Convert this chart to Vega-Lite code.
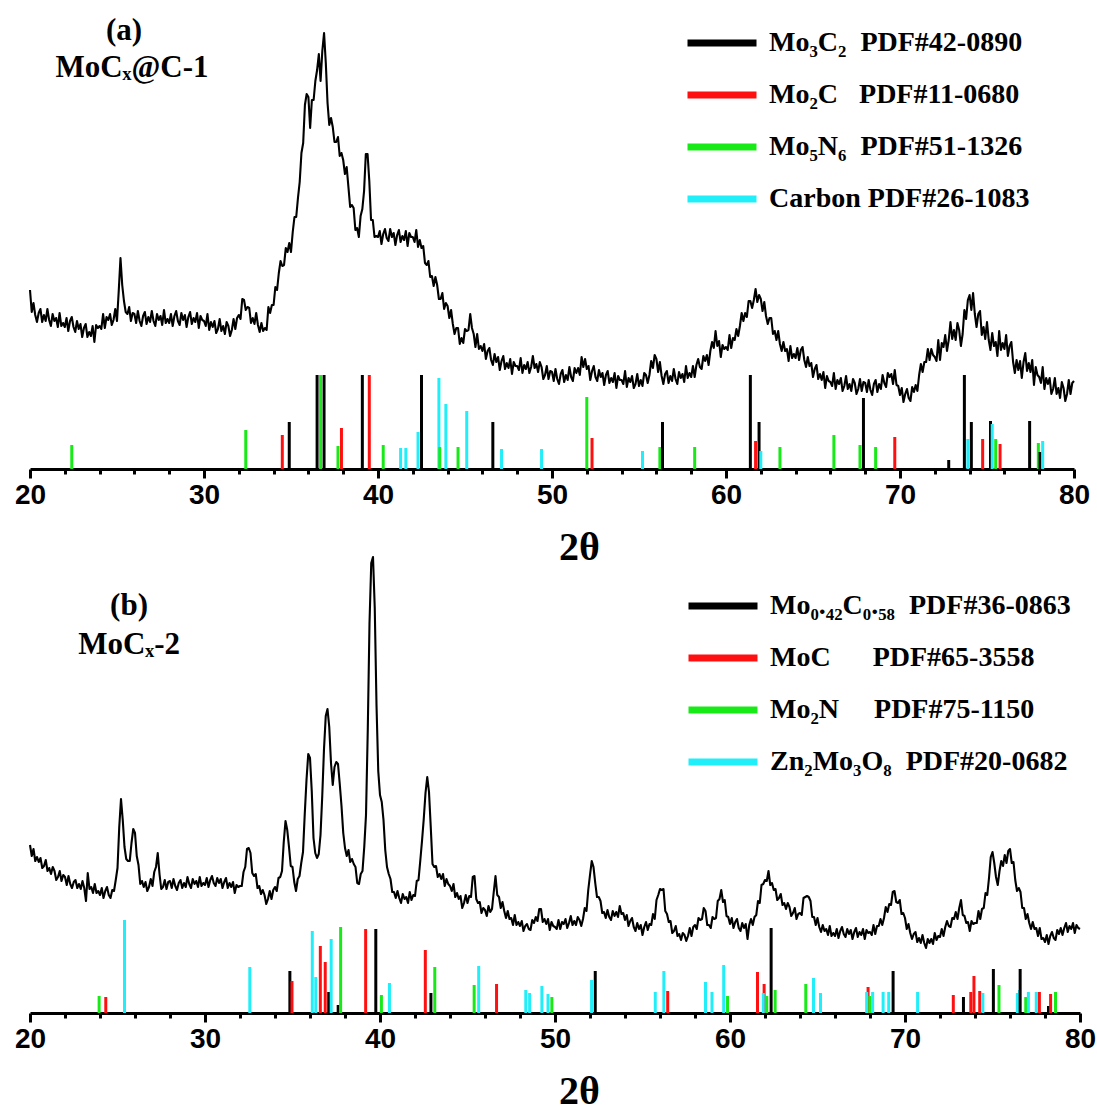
{
  "$schema": "https://vega.github.io/schema/vega-lite/v6.json",
  "autosize": {"type": "pad"},
  "padding": {"left": 14, "top": 5, "right": 5, "bottom": 5},
  "background": "white",
  "bounds": "flush",
  "spacing": 78,
  "config": {
    "view": {"stroke": null},
    "axisX": {
      "values": [20, 25, 30, 35, 40, 45, 50, 55, 60, 65, 70, 75, 80],
      "labelExpr": "datum.value % 10 === 0 ? datum.label : ''",
      "tickWidth": 3, "tickColor": "black",
      "domainColor": "black", "domainWidth": 3,
      "labelFont": "Liberation Sans", "labelFontSize": 28, "labelFontWeight": "bold", "labelColor": "black",
      "labelPadding": 3, "labelFlush": false, "labelOverlap": false,
      "titleFont": "Liberation Serif", "titleFontSize": 40, "titleFontWeight": "bold", "titleColor": "black",
      "titleY": 90, "titleBaseline": "alphabetic", "titleX": 549,
      "grid": false
    },
    "legend": {
      "orient": "none", "title": null, "padding": 0,
      "symbolType": "stroke", "symbolSize": 4761, "symbolStrokeWidth": 7,
      "labelFont": "Liberation Serif", "labelFontSize": 28, "labelFontWeight": "bold", "labelColor": "black",
      "labelOffset": 9, "labelLimit": 0, "rowPadding": -4
    }
  },
  "resolve": {"scale": {"color": "independent"}},
  "datasets": {
    "curveA": [
      {"t":20,"i":179},{"t":20.1,"i":157},{"t":20.2,"i":166},{"t":20.3,"i":154},{"t":20.4,"i":147},{"t":20.5,"i":156},{"t":20.6,"i":160},{"t":20.7,"i":147},{"t":20.8,"i":154},{"t":20.9,"i":148},
      {"t":21,"i":160},{"t":21.1,"i":149},{"t":21.2,"i":143},{"t":21.3,"i":155},{"t":21.4,"i":148},{"t":21.5,"i":151},{"t":21.6,"i":142},{"t":21.7,"i":156},{"t":21.8,"i":143},{"t":21.9,"i":146},
      {"t":22,"i":142},{"t":22.1,"i":151},{"t":22.2,"i":138},{"t":22.3,"i":148},{"t":22.4,"i":152},{"t":22.5,"i":142},{"t":22.6,"i":137},{"t":22.7,"i":148},{"t":22.8,"i":140},{"t":22.9,"i":145},
      {"t":23,"i":132},{"t":23.1,"i":141},{"t":23.2,"i":145},{"t":23.3,"i":132},{"t":23.4,"i":137},{"t":23.5,"i":133},{"t":23.6,"i":143},{"t":23.7,"i":127},{"t":23.8,"i":144},{"t":23.9,"i":141},
      {"t":24,"i":143},{"t":24.1,"i":140},{"t":24.2,"i":155},{"t":24.3,"i":141},{"t":24.4,"i":152},{"t":24.5,"i":149},{"t":24.6,"i":155},{"t":24.7,"i":144},{"t":24.8,"i":149},{"t":24.9,"i":160},
      {"t":25,"i":148},{"t":25.1,"i":178},{"t":25.2,"i":211},{"t":25.3,"i":184},{"t":25.4,"i":168},{"t":25.5,"i":157},{"t":25.6,"i":155},{"t":25.7,"i":162},{"t":25.8,"i":148},{"t":25.9,"i":156},
      {"t":26,"i":155},{"t":26.1,"i":146},{"t":26.2,"i":158},{"t":26.3,"i":148},{"t":26.4,"i":143},{"t":26.5,"i":153},{"t":26.6,"i":157},{"t":26.7,"i":145},{"t":26.8,"i":152},{"t":26.9,"i":147},
      {"t":27,"i":158},{"t":27.1,"i":148},{"t":27.2,"i":143},{"t":27.3,"i":155},{"t":27.4,"i":149},{"t":27.5,"i":153},{"t":27.6,"i":144},{"t":27.7,"i":159},{"t":27.8,"i":146},{"t":27.9,"i":150},
      {"t":28,"i":146},{"t":28.1,"i":155},{"t":28.2,"i":143},{"t":28.3,"i":153},{"t":28.4,"i":158},{"t":28.5,"i":148},{"t":28.6,"i":144},{"t":28.7,"i":156},{"t":28.8,"i":149},{"t":28.9,"i":154},
      {"t":29,"i":142},{"t":29.1,"i":152},{"t":29.2,"i":157},{"t":29.3,"i":145},{"t":29.4,"i":151},{"t":29.5,"i":147},{"t":29.6,"i":156},{"t":29.7,"i":141},{"t":29.8,"i":153},{"t":29.9,"i":149},
      {"t":30,"i":148},{"t":30.1,"i":143},{"t":30.2,"i":155},{"t":30.3,"i":139},{"t":30.4,"i":147},{"t":30.5,"i":142},{"t":30.6,"i":148},{"t":30.7,"i":136},{"t":30.8,"i":140},{"t":30.9,"i":150},
      {"t":31,"i":138},{"t":31.1,"i":143},{"t":31.2,"i":135},{"t":31.3,"i":147},{"t":31.4,"i":143},{"t":31.5,"i":133},{"t":31.6,"i":139},{"t":31.7,"i":150},{"t":31.8,"i":140},{"t":31.9,"i":151},
      {"t":32,"i":154},{"t":32.1,"i":150},{"t":32.2,"i":170},{"t":32.3,"i":169},{"t":32.4,"i":159},{"t":32.5,"i":162},{"t":32.6,"i":161},{"t":32.7,"i":146},{"t":32.8,"i":151},{"t":32.9,"i":145},
      {"t":33,"i":156},{"t":33.1,"i":144},{"t":33.2,"i":137},{"t":33.3,"i":146},{"t":33.4,"i":138},{"t":33.5,"i":141},{"t":33.6,"i":139},{"t":33.7,"i":162},{"t":33.8,"i":156},{"t":33.9,"i":164},
      {"t":34,"i":164},{"t":34.1,"i":182},{"t":34.2,"i":179},{"t":34.3,"i":196},{"t":34.4,"i":208},{"t":34.5,"i":203},{"t":34.6,"i":204},{"t":34.7,"i":221},{"t":34.8,"i":217},{"t":34.9,"i":226},
      {"t":35,"i":217},{"t":35.1,"i":237},{"t":35.2,"i":252},{"t":35.3,"i":252},{"t":35.4,"i":271},{"t":35.5,"i":287},{"t":35.6,"i":316},{"t":35.7,"i":326},{"t":35.8,"i":364},{"t":35.9,"i":375},
      {"t":36,"i":372},{"t":36.1,"i":341},{"t":36.2,"i":369},{"t":36.3,"i":369},{"t":36.4,"i":388},{"t":36.5,"i":399},{"t":36.6,"i":415},{"t":36.7,"i":388},{"t":36.8,"i":418},{"t":36.9,"i":436},
      {"t":37,"i":406},{"t":37.1,"i":366},{"t":37.2,"i":344},{"t":37.3,"i":351},{"t":37.4,"i":342},{"t":37.5,"i":327},{"t":37.6,"i":327},{"t":37.7,"i":332},{"t":37.8,"i":313},{"t":37.9,"i":316},
      {"t":38,"i":309},{"t":38.1,"i":295},{"t":38.2,"i":302},{"t":38.3,"i":282},{"t":38.4,"i":262},{"t":38.5,"i":264},{"t":38.6,"i":261},{"t":38.7,"i":239},{"t":38.8,"i":241},{"t":38.9,"i":232},
      {"t":39,"i":253},{"t":39.1,"i":260},{"t":39.2,"i":278},{"t":39.3,"i":315},{"t":39.4,"i":315},{"t":39.5,"i":288},{"t":39.6,"i":249},{"t":39.7,"i":249},{"t":39.8,"i":232},{"t":39.9,"i":233},
      {"t":40,"i":232},{"t":40.1,"i":238},{"t":40.2,"i":225},{"t":40.3,"i":235},{"t":40.4,"i":240},{"t":40.5,"i":231},{"t":40.6,"i":228},{"t":40.7,"i":240},{"t":40.8,"i":232},{"t":40.9,"i":236},
      {"t":41,"i":224},{"t":41.1,"i":234},{"t":41.2,"i":239},{"t":41.3,"i":227},{"t":41.4,"i":233},{"t":41.5,"i":229},{"t":41.6,"i":238},{"t":41.7,"i":223},{"t":41.8,"i":236},{"t":41.9,"i":232},
      {"t":42,"i":232},{"t":42.1,"i":227},{"t":42.2,"i":239},{"t":42.3,"i":222},{"t":42.4,"i":229},{"t":42.5,"i":221},{"t":42.6,"i":223},{"t":42.7,"i":206},{"t":42.8,"i":204},{"t":42.9,"i":208},
      {"t":43,"i":192},{"t":43.1,"i":193},{"t":43.2,"i":183},{"t":43.3,"i":192},{"t":43.4,"i":184},{"t":43.5,"i":170},{"t":43.6,"i":170},{"t":43.7,"i":176},{"t":43.8,"i":160},{"t":43.9,"i":166},
      {"t":44,"i":163},{"t":44.1,"i":151},{"t":44.2,"i":159},{"t":44.3,"i":145},{"t":44.4,"i":135},{"t":44.5,"i":141},{"t":44.6,"i":141},{"t":44.7,"i":125},{"t":44.8,"i":131},{"t":44.9,"i":126},
      {"t":45,"i":140},{"t":45.1,"i":138},{"t":45.2,"i":139},{"t":45.3,"i":155},{"t":45.4,"i":141},{"t":45.5,"i":135},{"t":45.6,"i":122},{"t":45.7,"i":135},{"t":45.8,"i":120},{"t":45.9,"i":123},
      {"t":46,"i":118},{"t":46.1,"i":125},{"t":46.2,"i":110},{"t":46.3,"i":118},{"t":46.4,"i":121},{"t":46.5,"i":109},{"t":46.6,"i":104},{"t":46.7,"i":115},{"t":46.8,"i":107},{"t":46.9,"i":112},
      {"t":47,"i":99},{"t":47.1,"i":108},{"t":47.2,"i":113},{"t":47.3,"i":100},{"t":47.4,"i":106},{"t":47.5,"i":101},{"t":47.6,"i":110},{"t":47.7,"i":95},{"t":47.8,"i":107},{"t":47.9,"i":103},
      {"t":48,"i":103},{"t":48.1,"i":99},{"t":48.2,"i":111},{"t":48.3,"i":96},{"t":48.4,"i":104},{"t":48.5,"i":100},{"t":48.6,"i":107},{"t":48.7,"i":96},{"t":48.8,"i":102},{"t":48.9,"i":113},
      {"t":49,"i":101},{"t":49.1,"i":105},{"t":49.2,"i":97},{"t":49.3,"i":107},{"t":49.4,"i":102},{"t":49.5,"i":90},{"t":49.6,"i":94},{"t":49.7,"i":103},{"t":49.8,"i":90},{"t":49.9,"i":98},
      {"t":50,"i":97},{"t":50.1,"i":88},{"t":50.2,"i":100},{"t":50.3,"i":90},{"t":50.4,"i":85},{"t":50.5,"i":95},{"t":50.6,"i":99},{"t":50.7,"i":87},{"t":50.8,"i":94},{"t":50.9,"i":89},
      {"t":51,"i":102},{"t":51.1,"i":92},{"t":51.2,"i":88},{"t":51.3,"i":101},{"t":51.4,"i":96},{"t":51.5,"i":101},{"t":51.6,"i":94},{"t":51.7,"i":112},{"t":51.8,"i":102},{"t":51.9,"i":110},
      {"t":52,"i":100},{"t":52.1,"i":103},{"t":52.2,"i":89},{"t":52.3,"i":98},{"t":52.4,"i":103},{"t":52.5,"i":92},{"t":52.6,"i":88},{"t":52.7,"i":99},{"t":52.8,"i":92},{"t":52.9,"i":96},
      {"t":53,"i":84},{"t":53.1,"i":94},{"t":53.2,"i":98},{"t":53.3,"i":86},{"t":53.4,"i":91},{"t":53.5,"i":87},{"t":53.6,"i":96},{"t":53.7,"i":81},{"t":53.8,"i":93},{"t":53.9,"i":89},
      {"t":54,"i":89},{"t":54.1,"i":85},{"t":54.2,"i":98},{"t":54.3,"i":82},{"t":54.4,"i":91},{"t":54.5,"i":87},{"t":54.6,"i":93},{"t":54.7,"i":81},{"t":54.8,"i":85},{"t":54.9,"i":95},
      {"t":55,"i":83},{"t":55.1,"i":89},{"t":55.2,"i":83},{"t":55.3,"i":96},{"t":55.4,"i":94},{"t":55.5,"i":86},{"t":55.6,"i":94},{"t":55.7,"i":108},{"t":55.8,"i":101},{"t":55.9,"i":114},
      {"t":56,"i":110},{"t":56.1,"i":97},{"t":56.2,"i":107},{"t":56.3,"i":93},{"t":56.4,"i":85},{"t":56.5,"i":95},{"t":56.6,"i":98},{"t":56.7,"i":86},{"t":56.8,"i":93},{"t":56.9,"i":88},
      {"t":57,"i":100},{"t":57.1,"i":90},{"t":57.2,"i":85},{"t":57.3,"i":97},{"t":57.4,"i":91},{"t":57.5,"i":95},{"t":57.6,"i":87},{"t":57.7,"i":103},{"t":57.8,"i":91},{"t":57.9,"i":96},
      {"t":58,"i":92},{"t":58.1,"i":103},{"t":58.2,"i":92},{"t":58.3,"i":104},{"t":58.4,"i":110},{"t":58.5,"i":102},{"t":58.6,"i":100},{"t":58.7,"i":113},{"t":58.8,"i":108},{"t":58.9,"i":114},
      {"t":59,"i":104},{"t":59.1,"i":118},{"t":59.2,"i":127},{"t":59.3,"i":121},{"t":59.4,"i":138},{"t":59.5,"i":123},{"t":59.6,"i":128},{"t":59.7,"i":112},{"t":59.8,"i":124},{"t":59.9,"i":120},
      {"t":60,"i":122},{"t":60.1,"i":119},{"t":60.2,"i":134},{"t":60.3,"i":121},{"t":60.4,"i":131},{"t":60.5,"i":129},{"t":60.6,"i":140},{"t":60.7,"i":133},{"t":60.8,"i":143},{"t":60.9,"i":156},
      {"t":61,"i":148},{"t":61.1,"i":156},{"t":61.2,"i":152},{"t":61.3,"i":168},{"t":61.4,"i":168},{"t":61.5,"i":161},{"t":61.6,"i":169},{"t":61.7,"i":180},{"t":61.8,"i":167},{"t":61.9,"i":174},
      {"t":62,"i":170},{"t":62.1,"i":158},{"t":62.2,"i":167},{"t":62.3,"i":153},{"t":62.4,"i":145},{"t":62.5,"i":151},{"t":62.6,"i":151},{"t":62.7,"i":135},{"t":62.8,"i":138},{"t":62.9,"i":129},
      {"t":63,"i":138},{"t":63.1,"i":125},{"t":63.2,"i":118},{"t":63.3,"i":127},{"t":63.4,"i":118},{"t":63.5,"i":120},{"t":63.6,"i":108},{"t":63.7,"i":123},{"t":63.8,"i":111},{"t":63.9,"i":115},
      {"t":64,"i":111},{"t":64.1,"i":121},{"t":64.2,"i":109},{"t":64.3,"i":119},{"t":64.4,"i":122},{"t":64.5,"i":109},{"t":64.6,"i":102},{"t":64.7,"i":112},{"t":64.8,"i":103},{"t":64.9,"i":106},
      {"t":65,"i":92},{"t":65.1,"i":100},{"t":65.2,"i":104},{"t":65.3,"i":90},{"t":65.4,"i":95},{"t":65.5,"i":89},{"t":65.6,"i":97},{"t":65.7,"i":81},{"t":65.8,"i":93},{"t":65.9,"i":88},
      {"t":66,"i":87},{"t":66.1,"i":83},{"t":66.2,"i":96},{"t":66.3,"i":80},{"t":66.4,"i":89},{"t":66.5,"i":85},{"t":66.6,"i":91},{"t":66.7,"i":78},{"t":66.8,"i":83},{"t":66.9,"i":93},
      {"t":67,"i":80},{"t":67.1,"i":85},{"t":67.2,"i":78},{"t":67.3,"i":90},{"t":67.4,"i":86},{"t":67.5,"i":75},{"t":67.6,"i":80},{"t":67.7,"i":90},{"t":67.8,"i":78},{"t":67.9,"i":87},
      {"t":68,"i":86},{"t":68.1,"i":77},{"t":68.2,"i":89},{"t":68.3,"i":79},{"t":68.4,"i":74},{"t":68.5,"i":85},{"t":68.6,"i":89},{"t":68.7,"i":77},{"t":68.8,"i":85},{"t":68.9,"i":80},
      {"t":69,"i":94},{"t":69.1,"i":86},{"t":69.2,"i":82},{"t":69.3,"i":96},{"t":69.4,"i":92},{"t":69.5,"i":95},{"t":69.6,"i":85},{"t":69.7,"i":99},{"t":69.8,"i":84},{"t":69.9,"i":83},
      {"t":70,"i":74},{"t":70.1,"i":81},{"t":70.2,"i":67},{"t":70.3,"i":75},{"t":70.4,"i":80},{"t":70.5,"i":71},{"t":70.6,"i":68},{"t":70.7,"i":82},{"t":70.8,"i":77},{"t":70.9,"i":84},
      {"t":71,"i":78},{"t":71.1,"i":94},{"t":71.2,"i":105},{"t":71.3,"i":97},{"t":71.4,"i":107},{"t":71.5,"i":107},{"t":71.6,"i":120},{"t":71.7,"i":109},{"t":71.8,"i":120},{"t":71.9,"i":114},
      {"t":72,"i":112},{"t":72.1,"i":108},{"t":72.2,"i":129},{"t":72.3,"i":109},{"t":72.4,"i":126},{"t":72.5,"i":122},{"t":72.6,"i":134},{"t":72.7,"i":118},{"t":72.8,"i":129},{"t":72.9,"i":147},
      {"t":73,"i":130},{"t":73.1,"i":139},{"t":73.2,"i":129},{"t":73.3,"i":146},{"t":73.4,"i":139},{"t":73.5,"i":123},{"t":73.6,"i":135},{"t":73.7,"i":159},{"t":73.8,"i":150},{"t":73.9,"i":169},
      {"t":74,"i":174},{"t":74.1,"i":159},{"t":74.2,"i":176},{"t":74.3,"i":155},{"t":74.4,"i":142},{"t":74.5,"i":155},{"t":74.6,"i":158},{"t":74.7,"i":134},{"t":74.8,"i":142},{"t":74.9,"i":130},
      {"t":75,"i":147},{"t":75.1,"i":129},{"t":75.2,"i":119},{"t":75.3,"i":136},{"t":75.4,"i":123},{"t":75.5,"i":127},{"t":75.6,"i":113},{"t":75.7,"i":138},{"t":75.8,"i":119},{"t":75.9,"i":126},
      {"t":76,"i":120},{"t":76.1,"i":134},{"t":76.2,"i":113},{"t":76.3,"i":123},{"t":76.4,"i":127},{"t":76.5,"i":107},{"t":76.6,"i":96},{"t":76.7,"i":109},{"t":76.8,"i":99},{"t":76.9,"i":108},
      {"t":77,"i":91},{"t":77.1,"i":107},{"t":77.2,"i":116},{"t":77.3,"i":98},{"t":77.4,"i":106},{"t":77.5,"i":97},{"t":77.6,"i":109},{"t":77.7,"i":84},{"t":77.8,"i":102},{"t":77.9,"i":94},
      {"t":78,"i":92},{"t":78.1,"i":86},{"t":78.2,"i":102},{"t":78.3,"i":80},{"t":78.4,"i":91},{"t":78.5,"i":85},{"t":78.6,"i":91},{"t":78.7,"i":75},{"t":78.8,"i":80},{"t":78.9,"i":91},
      {"t":79,"i":75},{"t":79.1,"i":81},{"t":79.2,"i":71},{"t":79.3,"i":87},{"t":79.4,"i":81},{"t":79.5,"i":68},{"t":79.6,"i":75},{"t":79.7,"i":89},{"t":79.8,"i":75},{"t":79.9,"i":86},
      {"t":80,"i":88}
    ],
    "sticksA": [
      {"t":22.4,"h":24,"p":"Mo5N6"},{"t":32.4,"h":39,"p":"Mo5N6"},{"t":34.5,"h":34,"p":"Mo2C"},{"t":34.9,"h":47,"p":"Mo3C2"},
      {"t":36.5,"h":94,"p":"Mo3C2"},{"t":36.9,"h":94,"p":"Mo3C2"},{"t":36.7,"h":94,"p":"Mo5N6"},{"t":37.7,"h":23,"p":"Mo5N6"},
      {"t":37.9,"h":41,"p":"Mo2C"},{"t":39.1,"h":94,"p":"Mo3C2"},{"t":39.5,"h":94,"p":"Mo2C"},{"t":40.3,"h":24,"p":"Mo5N6"},
      {"t":41.3,"h":21,"p":"Carbon"},{"t":41.6,"h":21,"p":"Carbon"},{"t":42.3,"h":37,"p":"Carbon"},{"t":42.5,"h":94,"p":"Mo3C2"},
      {"t":43.5,"h":91,"p":"Carbon"},{"t":43.55,"h":22,"p":"Mo5N6"},{"t":43.9,"h":65,"p":"Carbon"},{"t":44.6,"h":22,"p":"Mo5N6"},
      {"t":45.1,"h":58,"p":"Carbon"},{"t":46.6,"h":47,"p":"Mo3C2"},{"t":47.1,"h":20,"p":"Carbon"},{"t":49.4,"h":20,"p":"Carbon"},
      {"t":52.0,"h":72,"p":"Mo5N6"},{"t":52.3,"h":31,"p":"Mo2C"},{"t":55.2,"h":18,"p":"Carbon"},{"t":56.2,"h":22,"p":"Mo5N6"},
      {"t":56.35,"h":47,"p":"Mo3C2"},{"t":58.2,"h":22,"p":"Mo5N6"},{"t":61.4,"h":94,"p":"Mo3C2"},{"t":61.7,"h":28,"p":"Mo2C"},
      {"t":61.9,"h":47,"p":"Mo3C2"},{"t":62.0,"h":18,"p":"Carbon"},{"t":63.1,"h":22,"p":"Mo5N6"},{"t":66.2,"h":34,"p":"Mo5N6"},
      {"t":67.7,"h":24,"p":"Mo5N6"},{"t":67.9,"h":71,"p":"Mo3C2"},{"t":68.6,"h":22,"p":"Mo5N6"},{"t":69.7,"h":32,"p":"Mo2C"},
      {"t":72.8,"h":9,"p":"Mo3C2"},{"t":73.7,"h":94,"p":"Mo3C2"},{"t":73.9,"h":30,"p":"Carbon"},{"t":74.1,"h":47,"p":"Mo3C2"},
      {"t":74.75,"h":30,"p":"Mo2C"},{"t":75.2,"h":48,"p":"Mo3C2"},{"t":75.3,"h":45,"p":"Carbon"},{"t":75.5,"h":30,"p":"Mo5N6"},
      {"t":75.75,"h":25,"p":"Mo2C"},{"t":77.45,"h":48,"p":"Mo3C2"},{"t":77.95,"h":26,"p":"Mo5N6"},{"t":78.05,"h":17,"p":"Mo3C2"},
      {"t":78.2,"h":28,"p":"Carbon"}
    ],
    "curveB": [
      {"t":20,"i":168},{"t":20.1,"i":157},{"t":20.2,"i":164},{"t":20.3,"i":152},{"t":20.4,"i":156},{"t":20.5,"i":151},{"t":20.6,"i":155},{"t":20.7,"i":145},{"t":20.8,"i":147},{"t":20.9,"i":153},
      {"t":21,"i":142},{"t":21.1,"i":145},{"t":21.2,"i":139},{"t":21.3,"i":146},{"t":21.4,"i":142},{"t":21.5,"i":133},{"t":21.6,"i":136},{"t":21.7,"i":142},{"t":21.8,"i":132},{"t":21.9,"i":138},
      {"t":22,"i":136},{"t":22.1,"i":128},{"t":22.2,"i":137},{"t":22.3,"i":129},{"t":22.4,"i":125},{"t":22.5,"i":131},{"t":22.6,"i":133},{"t":22.7,"i":125},{"t":22.8,"i":129},{"t":22.9,"i":124},
      {"t":23,"i":132},{"t":23.1,"i":125},{"t":23.2,"i":112},{"t":23.3,"i":140},{"t":23.4,"i":124},{"t":23.5,"i":126},{"t":23.6,"i":120},{"t":23.7,"i":129},{"t":23.8,"i":120},{"t":23.9,"i":122},
      {"t":24,"i":118},{"t":24.1,"i":125},{"t":24.2,"i":115},{"t":24.3,"i":122},{"t":24.4,"i":126},{"t":24.5,"i":118},{"t":24.6,"i":115},{"t":24.7,"i":123},{"t":24.8,"i":122},{"t":24.9,"i":133},
      {"t":25,"i":145},{"t":25.1,"i":186},{"t":25.2,"i":214},{"t":25.3,"i":193},{"t":25.4,"i":166},{"t":25.5,"i":154},{"t":25.6,"i":152},{"t":25.7,"i":152},{"t":25.8,"i":170},{"t":25.9,"i":184},
      {"t":26,"i":180},{"t":26.1,"i":157},{"t":26.2,"i":148},{"t":26.3,"i":129},{"t":26.4,"i":132},{"t":26.5,"i":126},{"t":26.6,"i":131},{"t":26.7,"i":122},{"t":26.8,"i":126},{"t":26.9,"i":134},
      {"t":27,"i":127},{"t":27.1,"i":141},{"t":27.2,"i":146},{"t":27.3,"i":160},{"t":27.4,"i":139},{"t":27.5,"i":124},{"t":27.6,"i":126},{"t":27.7,"i":133},{"t":27.8,"i":124},{"t":27.9,"i":131},
      {"t":28,"i":132},{"t":28.1,"i":125},{"t":28.2,"i":134},{"t":28.3,"i":127},{"t":28.4,"i":123},{"t":28.5,"i":130},{"t":28.6,"i":133},{"t":28.7,"i":125},{"t":28.8,"i":130},{"t":28.9,"i":126},
      {"t":29,"i":136},{"t":29.1,"i":129},{"t":29.2,"i":125},{"t":29.3,"i":134},{"t":29.4,"i":129},{"t":29.5,"i":132},{"t":29.6,"i":126},{"t":29.7,"i":136},{"t":29.8,"i":127},{"t":29.9,"i":130},
      {"t":30,"i":128},{"t":30.1,"i":135},{"t":30.2,"i":126},{"t":30.3,"i":133},{"t":30.4,"i":137},{"t":30.5,"i":130},{"t":30.6,"i":127},{"t":30.7,"i":135},{"t":30.8,"i":130},{"t":30.9,"i":134},
      {"t":31,"i":125},{"t":31.1,"i":131},{"t":31.2,"i":135},{"t":31.3,"i":125},{"t":31.4,"i":130},{"t":31.5,"i":126},{"t":31.6,"i":131},{"t":31.7,"i":120},{"t":31.8,"i":128},{"t":31.9,"i":126},
      {"t":32,"i":127},{"t":32.1,"i":127},{"t":32.2,"i":141},{"t":32.3,"i":146},{"t":32.4,"i":164},{"t":32.5,"i":165},{"t":32.6,"i":160},{"t":32.7,"i":140},{"t":32.8,"i":137},{"t":32.9,"i":139},
      {"t":33,"i":125},{"t":33.1,"i":127},{"t":33.2,"i":119},{"t":33.3,"i":123},{"t":33.4,"i":118},{"t":33.5,"i":109},{"t":33.6,"i":114},{"t":33.7,"i":122},{"t":33.8,"i":114},{"t":33.9,"i":123},
      {"t":34,"i":126},{"t":34.1,"i":122},{"t":34.2,"i":135},{"t":34.3,"i":136},{"t":34.4,"i":142},{"t":34.5,"i":171},{"t":34.6,"i":192},{"t":34.7,"i":183},{"t":34.8,"i":166},{"t":34.9,"i":147},
      {"t":35,"i":146},{"t":35.1,"i":131},{"t":35.2,"i":122},{"t":35.3,"i":134},{"t":35.4,"i":137},{"t":35.5,"i":150},{"t":35.6,"i":161},{"t":35.7,"i":199},{"t":35.8,"i":233},{"t":35.9,"i":259},
      {"t":36,"i":255},{"t":36.1,"i":222},{"t":36.2,"i":175},{"t":36.3,"i":160},{"t":36.4,"i":155},{"t":36.5,"i":159},{"t":36.6,"i":178},{"t":36.7,"i":217},{"t":36.8,"i":264},{"t":36.9,"i":297},
      {"t":37,"i":304},{"t":37.1,"i":286},{"t":37.2,"i":250},{"t":37.3,"i":228},{"t":37.4,"i":246},{"t":37.5,"i":251},{"t":37.6,"i":249},{"t":37.7,"i":229},{"t":37.8,"i":207},{"t":37.9,"i":180},
      {"t":38,"i":165},{"t":38.1,"i":157},{"t":38.2,"i":163},{"t":38.3,"i":151},{"t":38.4,"i":154},{"t":38.5,"i":149},{"t":38.6,"i":146},{"t":38.7,"i":130},{"t":38.8,"i":129},{"t":38.9,"i":139},
      {"t":39,"i":142},{"t":39.1,"i":166},{"t":39.2,"i":198},{"t":39.3,"i":282},{"t":39.4,"i":390},{"t":39.5,"i":450},{"t":39.6,"i":456},{"t":39.7,"i":405},{"t":39.8,"i":308},{"t":39.9,"i":242},
      {"t":40,"i":218},{"t":40.1,"i":211},{"t":40.2,"i":193},{"t":40.3,"i":163},{"t":40.4,"i":146},{"t":40.5,"i":139},{"t":40.6,"i":134},{"t":40.7,"i":121},{"t":40.8,"i":121},{"t":40.9,"i":115},
      {"t":41,"i":122},{"t":41.1,"i":115},{"t":41.2,"i":110},{"t":41.3,"i":119},{"t":41.4,"i":114},{"t":41.5,"i":116},{"t":41.6,"i":110},{"t":41.7,"i":121},{"t":41.8,"i":113},{"t":41.9,"i":118},
      {"t":42,"i":117},{"t":42.1,"i":132},{"t":42.2,"i":133},{"t":42.3,"i":152},{"t":42.4,"i":172},{"t":42.5,"i":194},{"t":42.6,"i":220},{"t":42.7,"i":236},{"t":42.8,"i":221},{"t":42.9,"i":186},
      {"t":43,"i":149},{"t":43.1,"i":146},{"t":43.2,"i":147},{"t":43.3,"i":136},{"t":43.4,"i":139},{"t":43.5,"i":134},{"t":43.6,"i":139},{"t":43.7,"i":127},{"t":43.8,"i":134},{"t":43.9,"i":129},
      {"t":44,"i":127},{"t":44.1,"i":122},{"t":44.2,"i":129},{"t":44.3,"i":116},{"t":44.4,"i":120},{"t":44.5,"i":114},{"t":44.6,"i":117},{"t":44.7,"i":105},{"t":44.8,"i":110},{"t":44.9,"i":118},
      {"t":45,"i":110},{"t":45.1,"i":117},{"t":45.2,"i":116},{"t":45.3,"i":136},{"t":45.4,"i":137},{"t":45.5,"i":114},{"t":45.6,"i":110},{"t":45.7,"i":111},{"t":45.8,"i":100},{"t":45.9,"i":105},
      {"t":46,"i":103},{"t":46.1,"i":97},{"t":46.2,"i":107},{"t":46.3,"i":101},{"t":46.4,"i":104},{"t":46.5,"i":121},{"t":46.6,"i":137},{"t":46.7,"i":118},{"t":46.8,"i":116},{"t":46.9,"i":105},
      {"t":47,"i":111},{"t":47.1,"i":102},{"t":47.2,"i":95},{"t":47.3,"i":102},{"t":47.4,"i":94},{"t":47.5,"i":95},{"t":47.6,"i":88},{"t":47.7,"i":98},{"t":47.8,"i":88},{"t":47.9,"i":91},
      {"t":48,"i":87},{"t":48.1,"i":92},{"t":48.2,"i":82},{"t":48.3,"i":87},{"t":48.4,"i":89},{"t":48.5,"i":84},{"t":48.6,"i":83},{"t":48.7,"i":93},{"t":48.8,"i":90},{"t":48.9,"i":96},
      {"t":49,"i":92},{"t":49.1,"i":104},{"t":49.2,"i":104},{"t":49.3,"i":91},{"t":49.4,"i":94},{"t":49.5,"i":89},{"t":49.6,"i":94},{"t":49.7,"i":83},{"t":49.8,"i":91},{"t":49.9,"i":87},
      {"t":50,"i":86},{"t":50.1,"i":84},{"t":50.2,"i":93},{"t":50.3,"i":84},{"t":50.4,"i":91},{"t":50.5,"i":89},{"t":50.6,"i":94},{"t":50.7,"i":85},{"t":50.8,"i":90},{"t":50.9,"i":97},
      {"t":51,"i":88},{"t":51.1,"i":92},{"t":51.2,"i":88},{"t":51.3,"i":96},{"t":51.4,"i":93},{"t":51.5,"i":87},{"t":51.6,"i":94},{"t":51.7,"i":105},{"t":51.8,"i":102},{"t":51.9,"i":123},
      {"t":52,"i":138},{"t":52.1,"i":152},{"t":52.2,"i":146},{"t":52.3,"i":130},{"t":52.4,"i":116},{"t":52.5,"i":116},{"t":52.6,"i":112},{"t":52.7,"i":100},{"t":52.8,"i":101},{"t":52.9,"i":95},
      {"t":53,"i":103},{"t":53.1,"i":96},{"t":53.2,"i":93},{"t":53.3,"i":102},{"t":53.4,"i":97},{"t":53.5,"i":101},{"t":53.6,"i":96},{"t":53.7,"i":107},{"t":53.8,"i":99},{"t":53.9,"i":100},
      {"t":54,"i":93},{"t":54.1,"i":98},{"t":54.2,"i":87},{"t":54.3,"i":92},{"t":54.4,"i":95},{"t":54.5,"i":86},{"t":54.6,"i":82},{"t":54.7,"i":90},{"t":54.8,"i":84},{"t":54.9,"i":88},
      {"t":55,"i":78},{"t":55.1,"i":86},{"t":55.2,"i":91},{"t":55.3,"i":83},{"t":55.4,"i":89},{"t":55.5,"i":88},{"t":55.6,"i":99},{"t":55.7,"i":94},{"t":55.8,"i":113},{"t":55.9,"i":118},
      {"t":56,"i":124},{"t":56.1,"i":123},{"t":56.2,"i":124},{"t":56.3,"i":102},{"t":56.4,"i":99},{"t":56.5,"i":91},{"t":56.6,"i":92},{"t":56.7,"i":80},{"t":56.8,"i":82},{"t":56.9,"i":87},
      {"t":57,"i":77},{"t":57.1,"i":79},{"t":57.2,"i":73},{"t":57.3,"i":80},{"t":57.4,"i":78},{"t":57.5,"i":72},{"t":57.6,"i":77},{"t":57.7,"i":85},{"t":57.8,"i":77},{"t":57.9,"i":86},
      {"t":58,"i":88},{"t":58.1,"i":84},{"t":58.2,"i":95},{"t":58.3,"i":93},{"t":58.4,"i":94},{"t":58.5,"i":105},{"t":58.6,"i":102},{"t":58.7,"i":88},{"t":58.8,"i":88},{"t":58.9,"i":85},
      {"t":59,"i":96},{"t":59.1,"i":94},{"t":59.2,"i":95},{"t":59.3,"i":112},{"t":59.4,"i":114},{"t":59.5,"i":123},{"t":59.6,"i":111},{"t":59.7,"i":113},{"t":59.8,"i":97},{"t":59.9,"i":96},
      {"t":60,"i":89},{"t":60.1,"i":95},{"t":60.2,"i":85},{"t":60.3,"i":91},{"t":60.4,"i":94},{"t":60.5,"i":85},{"t":60.6,"i":82},{"t":60.7,"i":90},{"t":60.8,"i":85},{"t":60.9,"i":89},
      {"t":61,"i":74},{"t":61.1,"i":88},{"t":61.2,"i":94},{"t":61.3,"i":88},{"t":61.4,"i":96},{"t":61.5,"i":98},{"t":61.6,"i":112},{"t":61.7,"i":110},{"t":61.8,"i":128},{"t":61.9,"i":129},
      {"t":62,"i":133},{"t":62.1,"i":132},{"t":62.2,"i":142},{"t":62.3,"i":128},{"t":62.4,"i":130},{"t":62.5,"i":123},{"t":62.6,"i":124},{"t":62.7,"i":113},{"t":62.8,"i":115},{"t":62.9,"i":119},
      {"t":63,"i":108},{"t":63.1,"i":110},{"t":63.2,"i":104},{"t":63.3,"i":110},{"t":63.4,"i":106},{"t":63.5,"i":97},{"t":63.6,"i":100},{"t":63.7,"i":105},{"t":63.8,"i":94},{"t":63.9,"i":99},
      {"t":64,"i":100},{"t":64.1,"i":98},{"t":64.2,"i":115},{"t":64.3,"i":116},{"t":64.4,"i":117},{"t":64.5,"i":116},{"t":64.6,"i":112},{"t":64.7,"i":96},{"t":64.8,"i":96},{"t":64.9,"i":88},
      {"t":65,"i":95},{"t":65.1,"i":86},{"t":65.2,"i":81},{"t":65.3,"i":88},{"t":65.4,"i":82},{"t":65.5,"i":84},{"t":65.6,"i":78},{"t":65.7,"i":87},{"t":65.8,"i":77},{"t":65.9,"i":80},
      {"t":66,"i":77},{"t":66.1,"i":84},{"t":66.2,"i":75},{"t":66.3,"i":82},{"t":66.4,"i":86},{"t":66.5,"i":79},{"t":66.6,"i":76},{"t":66.7,"i":84},{"t":66.8,"i":79},{"t":66.9,"i":83},
      {"t":67,"i":74},{"t":67.1,"i":81},{"t":67.2,"i":85},{"t":67.3,"i":76},{"t":67.4,"i":81},{"t":67.5,"i":78},{"t":67.6,"i":84},{"t":67.7,"i":74},{"t":67.8,"i":83},{"t":67.9,"i":80},
      {"t":68,"i":81},{"t":68.1,"i":78},{"t":68.2,"i":88},{"t":68.3,"i":79},{"t":68.4,"i":87},{"t":68.5,"i":87},{"t":68.6,"i":94},{"t":68.7,"i":88},{"t":68.8,"i":95},{"t":68.9,"i":106},
      {"t":69,"i":101},{"t":69.1,"i":109},{"t":69.2,"i":108},{"t":69.3,"i":121},{"t":69.4,"i":122},{"t":69.5,"i":111},{"t":69.6,"i":110},{"t":69.7,"i":113},{"t":69.8,"i":99},{"t":69.9,"i":100},
      {"t":70,"i":95},{"t":70.1,"i":84},{"t":70.2,"i":89},{"t":70.3,"i":80},{"t":70.4,"i":74},{"t":70.5,"i":79},{"t":70.6,"i":81},{"t":70.7,"i":71},{"t":70.8,"i":75},{"t":70.9,"i":70},
      {"t":71,"i":78},{"t":71.1,"i":70},{"t":71.2,"i":65},{"t":71.3,"i":74},{"t":71.4,"i":70},{"t":71.5,"i":74},{"t":71.6,"i":69},{"t":71.7,"i":80},{"t":71.8,"i":73},{"t":71.9,"i":77},
      {"t":72,"i":76},{"t":72.1,"i":84},{"t":72.2,"i":77},{"t":72.3,"i":86},{"t":72.4,"i":92},{"t":72.5,"i":87},{"t":72.6,"i":86},{"t":72.7,"i":95},{"t":72.8,"i":94},{"t":72.9,"i":101},
      {"t":73,"i":94},{"t":73.1,"i":105},{"t":73.2,"i":113},{"t":73.3,"i":98},{"t":73.4,"i":97},{"t":73.5,"i":90},{"t":73.6,"i":91},{"t":73.7,"i":82},{"t":73.8,"i":92},{"t":73.9,"i":89},
      {"t":74,"i":90},{"t":74.1,"i":90},{"t":74.2,"i":102},{"t":74.3,"i":94},{"t":74.4,"i":104},{"t":74.5,"i":105},{"t":74.6,"i":120},{"t":74.7,"i":118},{"t":74.8,"i":135},{"t":74.9,"i":156},
      {"t":75,"i":161},{"t":75.1,"i":150},{"t":75.2,"i":136},{"t":75.3,"i":128},{"t":75.4,"i":142},{"t":75.5,"i":152},{"t":75.6,"i":147},{"t":75.7,"i":158},{"t":75.8,"i":150},{"t":75.9,"i":162},
      {"t":76,"i":164},{"t":76.1,"i":150},{"t":76.2,"i":151},{"t":76.3,"i":133},{"t":76.4,"i":122},{"t":76.5,"i":125},{"t":76.6,"i":121},{"t":76.7,"i":105},{"t":76.8,"i":105},{"t":76.9,"i":94},
      {"t":77,"i":99},{"t":77.1,"i":90},{"t":77.2,"i":84},{"t":77.3,"i":91},{"t":77.4,"i":84},{"t":77.5,"i":85},{"t":77.6,"i":77},{"t":77.7,"i":85},{"t":77.8,"i":74},{"t":77.9,"i":75},
      {"t":78,"i":71},{"t":78.1,"i":78},{"t":78.2,"i":69},{"t":78.3,"i":77},{"t":78.4,"i":81},{"t":78.5,"i":75},{"t":78.6,"i":73},{"t":78.7,"i":83},{"t":78.8,"i":79},{"t":78.9,"i":85},
      {"t":79,"i":78},{"t":79.1,"i":85},{"t":79.2,"i":90},{"t":79.3,"i":81},{"t":79.4,"i":87},{"t":79.5,"i":84},{"t":79.6,"i":90},{"t":79.7,"i":80},{"t":79.8,"i":88},{"t":79.9,"i":85},
      {"t":80,"i":84}
    ],
    "sticksB": [
      {"t":23.95,"h":17,"p":"Mo2N"},{"t":24.33,"h":16,"p":"MoC"},{"t":25.4,"h":93,"p":"Zn2Mo3O8"},{"t":32.56,"h":46,"p":"Zn2Mo3O8"},
      {"t":34.85,"h":42,"p":"Mo042C058"},{"t":34.97,"h":32,"p":"MoC"},{"t":36.13,"h":82,"p":"Zn2Mo3O8"},{"t":36.33,"h":36,"p":"Zn2Mo3O8"},
      {"t":36.59,"h":67,"p":"MoC"},{"t":36.87,"h":51,"p":"MoC"},{"t":37.07,"h":21,"p":"Mo042C058"},{"t":37.21,"h":74,"p":"Zn2Mo3O8"},
      {"t":37.61,"h":8,"p":"Mo042C058"},{"t":37.75,"h":86,"p":"Mo2N"},{"t":39.18,"h":84,"p":"MoC"},{"t":39.76,"h":84,"p":"Mo042C058"},
      {"t":40.08,"h":18,"p":"Mo2N"},{"t":40.54,"h":30,"p":"Zn2Mo3O8"},{"t":42.59,"h":63,"p":"MoC"},{"t":42.91,"h":20,"p":"Mo042C058"},
      {"t":43.13,"h":46,"p":"Mo2N"},{"t":45.38,"h":28,"p":"Mo2N"},{"t":45.64,"h":47,"p":"Zn2Mo3O8"},{"t":46.66,"h":29,"p":"MoC"},
      {"t":48.33,"h":23,"p":"Zn2Mo3O8"},{"t":48.55,"h":20,"p":"Zn2Mo3O8"},{"t":49.25,"h":27,"p":"Zn2Mo3O8"},{"t":49.6,"h":19,"p":"Zn2Mo3O8"},
      {"t":49.82,"h":16,"p":"Mo2N"},{"t":52.09,"h":33,"p":"Zn2Mo3O8"},{"t":52.3,"h":42,"p":"Mo042C058"},{"t":55.73,"h":21,"p":"Zn2Mo3O8"},
      {"t":56.22,"h":42,"p":"Zn2Mo3O8"},{"t":56.44,"h":22,"p":"MoC"},{"t":58.6,"h":31,"p":"Zn2Mo3O8"},{"t":58.97,"h":21,"p":"Zn2Mo3O8"},
      {"t":59.64,"h":48,"p":"Zn2Mo3O8"},{"t":59.86,"h":17,"p":"Mo2N"},{"t":61.57,"h":41,"p":"MoC"},{"t":61.95,"h":29,"p":"MoC"},
      {"t":61.9,"h":20,"p":"Zn2Mo3O8"},{"t":62.1,"h":17,"p":"Mo2N"},{"t":62.35,"h":85,"p":"Mo042C058"},{"t":62.58,"h":23,"p":"Mo2N"},
      {"t":64.33,"h":29,"p":"Mo2N"},{"t":64.77,"h":35,"p":"Zn2Mo3O8"},{"t":65.17,"h":20,"p":"Zn2Mo3O8"},{"t":67.89,"h":26,"p":"MoC"},
      {"t":67.81,"h":21,"p":"Zn2Mo3O8"},{"t":67.99,"h":17,"p":"Mo2N"},{"t":68.15,"h":21,"p":"Zn2Mo3O8"},{"t":68.75,"h":21,"p":"Zn2Mo3O8"},
      {"t":69.07,"h":21,"p":"Zn2Mo3O8"},{"t":69.32,"h":42,"p":"Mo042C058"},{"t":70.72,"h":21,"p":"Zn2Mo3O8"},{"t":72.76,"h":18,"p":"MoC"},
      {"t":73.34,"h":16,"p":"Mo042C058"},{"t":73.76,"h":21,"p":"MoC"},{"t":73.94,"h":37,"p":"MoC"},{"t":74.27,"h":22,"p":"MoC"},
      {"t":74.45,"h":20,"p":"Zn2Mo3O8"},{"t":75.05,"h":44,"p":"Mo042C058"},{"t":75.37,"h":28,"p":"Mo2N"},{"t":76.42,"h":20,"p":"Zn2Mo3O8"},
      {"t":76.54,"h":23,"p":"Zn2Mo3O8"},{"t":76.58,"h":44,"p":"Mo042C058"},{"t":76.9,"h":16,"p":"Mo2N"},{"t":77.05,"h":21,"p":"Zn2Mo3O8"},
      {"t":77.5,"h":21,"p":"Zn2Mo3O8"},{"t":77.68,"h":21,"p":"MoC"},{"t":78.2,"h":7,"p":"Mo042C058"},{"t":78.32,"h":19,"p":"MoC"},
      {"t":78.6,"h":21,"p":"Mo2N"}
    ]
  },
  "vconcat": [
    {
      "width": 1044,
      "height": 459,
      "layer": [
        {
          "data": {"name": "curveA"},
          "mark": {"type": "line", "color": "black", "strokeWidth": 2.1, "strokeJoin": "round"},
          "encoding": {
            "x": {"field": "t", "type": "quantitative", "scale": {"domain": [20, 80], "nice": false, "zero": false},
                  "axis": {"title": "2θ", "tickSize": {"condition": {"test": "datum.value % 10 !== 0", "value": 5}, "value": 9}}},
            "y": {"field": "i", "type": "quantitative", "scale": {"domain": [0, 459], "nice": false, "zero": false}, "axis": null}
          }
        },
        {
          "data": {"name": "sticksA"},
          "mark": {"type": "rule", "strokeWidth": 3},
          "encoding": {
            "x": {"field": "t", "type": "quantitative"},
            "y": {"field": "h", "type": "quantitative", "axis": null},
            "y2": {"datum": 0},
            "color": {
              "field": "p", "type": "nominal",
              "scale": {"domain": ["Mo3C2", "Mo2C", "Mo5N6", "Carbon"], "range": ["#000000", "#ff1010", "#18ea18", "#20eef8"]},
              "legend": {
                "legendX": 654, "legendY": -5,
                "labelExpr": "({'Mo3C2': 'Mo₃C₂\u00a0\u00a0PDF#42-0890', 'Mo2C': 'Mo₂C\u00a0\u00a0\u00a0PDF#11-0680', 'Mo5N6': 'Mo₅N₆\u00a0\u00a0PDF#51-1326', 'Carbon': 'Carbon PDF#26-1083'})[datum.label]"
              }
            }
          }
        },
        {
          "data": {"values": [{"label": "(a)"}]},
          "mark": {"type": "text", "font": "Liberation Serif", "fontSize": 31, "fontWeight": "bold", "baseline": "alphabetic", "align": "center", "color": "black"},
          "encoding": {"x": {"datum": 25.4}, "y": {"datum": 429}, "text": {"field": "label"}}
        },
        {
          "data": {"values": [{"label": "MoCₓ@C-1"}]},
          "mark": {"type": "text", "font": "Liberation Serif", "fontSize": 31, "fontWeight": "bold", "baseline": "alphabetic", "align": "center", "color": "black"},
          "encoding": {"x": {"datum": 25.86}, "y": {"datum": 392}, "text": {"field": "label"}}
        }
      ]
    },
    {
      "width": 1050,
      "height": 466,
      "layer": [
        {
          "data": {"name": "curveB"},
          "mark": {"type": "line", "color": "black", "strokeWidth": 2.1, "strokeJoin": "round"},
          "encoding": {
            "x": {"field": "t", "type": "quantitative", "scale": {"domain": [20, 80], "nice": false, "zero": false},
                  "axis": {"title": "2θ", "tickSize": {"condition": {"test": "datum.value % 10 !== 0", "value": 5}, "value": 9}}},
            "y": {"field": "i", "type": "quantitative", "scale": {"domain": [0, 466], "nice": false, "zero": false}, "axis": null}
          }
        },
        {
          "data": {"name": "sticksB"},
          "mark": {"type": "rule", "strokeWidth": 3},
          "encoding": {
            "x": {"field": "t", "type": "quantitative"},
            "y": {"field": "h", "type": "quantitative", "axis": null},
            "y2": {"datum": 0},
            "color": {
              "field": "p", "type": "nominal",
              "scale": {"domain": ["Mo042C058", "MoC", "Mo2N", "Zn2Mo3O8"], "range": ["#000000", "#ff1010", "#18ea18", "#20eef8"]},
              "legend": {
                "legendX": 655, "legendY": 21,
                "labelExpr": "({'Mo042C058': 'Mo₀.₄₂C₀.₅₈\u00a0\u00a0PDF#36-0863', 'MoC': 'MoC\u00a0\u00a0\u00a0\u00a0\u00a0\u00a0PDF#65-3558', 'Mo2N': 'Mo₂N\u00a0\u00a0\u00a0\u00a0\u00a0PDF#75-1150', 'Zn2Mo3O8': 'Zn₂Mo₃O₈\u00a0\u00a0PDF#20-0682'})[datum.label]"
              }
            }
          }
        },
        {
          "data": {"values": [{"label": "(b)"}]},
          "mark": {"type": "text", "font": "Liberation Serif", "fontSize": 31, "fontWeight": "bold", "baseline": "alphabetic", "align": "center", "color": "black"},
          "encoding": {"x": {"datum": 25.66}, "y": {"datum": 398}, "text": {"field": "label"}}
        },
        {
          "data": {"values": [{"label": "MoCₓ-2"}]},
          "mark": {"type": "text", "font": "Liberation Serif", "fontSize": 31, "fontWeight": "bold", "baseline": "alphabetic", "align": "center", "color": "black"},
          "encoding": {"x": {"datum": 25.66}, "y": {"datum": 359}, "text": {"field": "label"}}
        }
      ]
    }
  ]
}
